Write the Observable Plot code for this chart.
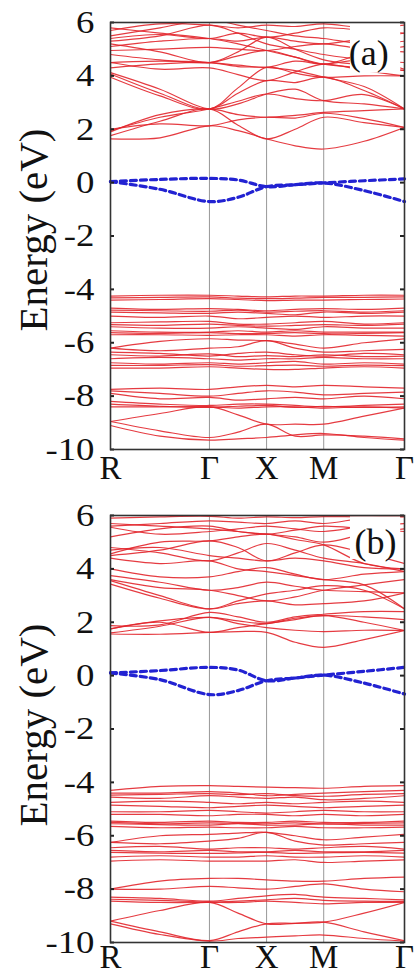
<!DOCTYPE html>
<html><head><meta charset="utf-8">
<script src="https://cdn.jsdelivr.net/npm/d3@7"></script>
<script src="https://cdn.jsdelivr.net/npm/@observablehq/plot@0.6"></script>
<style>
html,body{margin:0;padding:0;background:#fff;overflow:hidden;}
#chart{width:416px;}
svg{display:block;overflow:visible}
</style></head><body><div id="chart"></div>
<script>
// k-path positions (simple cubic: R-Γ = √3, Γ-X = 1, X-M = 1, M-Γ = √2)
const kPoints = [0, 0.866, 1.732, 2.232, 2.732, 3.232, 3.732, 4.439, 5.146];
const kTicks = [0, 1.732, 2.732, 3.732, 5.146];
const kLabels = ["R", "Γ", "X", "M", "Γ"];
const yTicks = [-10, -8, -6, -4, -2, 0, 2, 4, 6];

// Panel (a)
const condA = [
  [1.64, 1.68, 2.13, 1.95, 1.64, 1.38, 1.26, 1.55, 2.07],
  [1.76, 2.30, 2.76, 2.15, 1.64, 2.00, 2.45, 2.25, 2.07],
  [1.90, 2.55, 2.76, 2.55, 2.45, 2.52, 2.63, 2.70, 2.76],
  [1.95, 2.45, 2.76, 3.05, 3.32, 3.15, 3.07, 3.30, 2.76],
  [2.00, 2.20, 2.13, 2.35, 2.45, 2.42, 2.60, 2.40, 2.07],
  [4.07, 3.35, 2.76, 3.35, 3.82, 3.75, 3.95, 3.45, 2.76],
  [3.95, 3.25, 2.76, 3.55, 4.32, 4.10, 3.95, 4.00, 4.00],
  [4.12, 3.50, 2.76, 2.95, 3.32, 3.50, 3.07, 2.95, 2.76],
  [4.50, 4.25, 4.30, 4.05, 3.82, 4.15, 4.44, 4.20, 4.00],
  [4.30, 4.45, 4.50, 4.35, 4.32, 4.20, 3.95, 3.60, 2.76],
  [4.50, 4.55, 4.50, 4.40, 4.32, 4.55, 4.44, 4.60, 4.25],
  [4.80, 4.60, 4.50, 4.75, 4.95, 4.70, 4.44, 4.85, 5.10],
  [4.95, 5.00, 5.07, 5.00, 4.95, 5.10, 5.20, 5.00, 4.90],
  [5.20, 4.90, 4.50, 4.90, 5.45, 5.00, 4.60, 4.40, 4.20],
  [5.10, 5.30, 5.40, 5.30, 5.45, 5.30, 5.20, 5.40, 5.60],
  [5.40, 5.55, 5.40, 5.60, 5.45, 5.60, 5.80, 5.70, 5.60],
  [5.80, 5.60, 5.40, 5.20, 4.95, 4.70, 4.44, 4.30, 4.20],
  [5.30, 5.50, 5.90, 5.60, 5.20, 5.00, 4.80, 4.60, 4.50],
  [5.70, 5.95, 5.90, 5.80, 5.90, 5.85, 5.95, 5.80, 5.90],
  [5.50, 5.80, 6.10, 5.90, 5.70, 5.50, 5.40, 5.20, 5.30]
];
const valA = [
  [-4.25, -4.22, -4.22, -4.25, -4.28, -4.25, -4.25, -4.22, -4.22],
  [-4.32, -4.30, -4.28, -4.33, -4.35, -4.33, -4.30, -4.30, -4.28],
  [-4.40, -4.38, -4.35, -4.38, -4.42, -4.40, -4.40, -4.38, -4.36],
  [-4.70, -4.75, -4.72, -4.75, -4.80, -4.75, -4.72, -4.75, -4.70],
  [-4.78, -4.80, -4.82, -4.78, -4.85, -4.82, -4.80, -4.85, -4.80],
  [-4.85, -4.88, -4.90, -4.85, -4.90, -4.95, -4.85, -4.90, -4.85],
  [-5.00, -5.05, -5.00, -5.10, -5.05, -5.00, -5.05, -5.00, -5.00],
  [-5.25, -5.22, -5.20, -5.30, -5.30, -5.25, -5.20, -5.30, -5.25],
  [-5.32, -5.35, -5.30, -5.35, -5.38, -5.35, -5.32, -5.35, -5.30],
  [-5.40, -5.45, -5.45, -5.40, -5.45, -5.50, -5.40, -5.45, -5.45],
  [-5.55, -5.60, -5.60, -5.55, -5.60, -5.55, -5.60, -5.60, -5.60],
  [-5.62, -5.65, -5.62, -5.66, -5.65, -5.62, -5.66, -5.65, -5.62],
  [-5.70, -5.70, -5.72, -5.70, -5.70, -5.75, -5.70, -5.72, -5.75],
  [-6.20, -5.95, -5.85, -5.90, -5.92, -6.05, -6.20, -6.00, -5.85],
  [-6.20, -6.30, -6.20, -6.15, -5.92, -6.20, -6.35, -6.30, -6.25],
  [-6.35, -6.40, -6.50, -6.40, -6.35, -6.45, -6.50, -6.40, -6.45],
  [-6.45, -6.50, -6.42, -6.52, -6.48, -6.52, -6.45, -6.52, -6.50],
  [-6.60, -6.55, -6.60, -6.65, -6.60, -6.60, -6.55, -6.60, -6.60],
  [-6.75, -6.80, -6.75, -6.80, -6.75, -6.70, -6.80, -6.75, -6.80],
  [-6.85, -6.85, -6.82, -6.88, -6.86, -6.84, -6.88, -6.84, -6.86],
  [-6.95, -6.95, -6.90, -6.95, -7.00, -7.00, -6.95, -6.90, -6.95],
  [-7.75, -7.70, -7.75, -7.65, -7.60, -7.65, -7.60, -7.65, -7.70],
  [-7.80, -7.90, -8.00, -7.90, -7.80, -7.85, -7.95, -7.90, -7.85],
  [-7.90, -8.10, -8.05, -8.15, -8.10, -8.05, -8.10, -8.00, -8.10],
  [-8.20, -8.30, -8.35, -8.30, -8.30, -8.35, -8.40, -8.35, -8.30],
  [-8.30, -8.38, -8.42, -8.38, -8.35, -8.42, -8.38, -8.42, -8.40],
  [-8.40, -8.40, -8.40, -8.45, -8.40, -8.40, -8.45, -8.40, -8.45],
  [-8.95, -8.65, -8.40, -8.70, -9.05, -9.05, -9.05, -8.75, -8.45],
  [-8.95, -9.30, -9.55, -9.35, -9.05, -9.50, -9.45, -9.50, -9.60],
  [-9.10, -9.50, -9.65, -9.60, -9.55, -9.45, -9.40, -9.55, -9.65]
];
const blueA = [
  [0.04, 0.12, 0.16, 0.10, -0.15, -0.08, -0.01, 0.07, 0.14],
  [0.04, -0.25, -0.71, -0.55, -0.15, -0.08, -0.01, -0.30, -0.71]
];

// Panel (b)
const condB = [
  [1.56, 1.55, 1.62, 1.65, 1.62, 1.25, 1.06, 1.35, 1.69],
  [1.75, 2.00, 1.62, 1.80, 1.95, 2.10, 2.25, 2.00, 1.69],
  [1.75, 2.05, 2.18, 2.05, 1.95, 2.15, 2.25, 2.20, 2.10],
  [1.87, 1.90, 2.37, 2.20, 2.00, 2.20, 2.30, 2.40, 2.40],
  [1.60, 1.85, 2.18, 1.95, 1.80, 1.70, 1.65, 1.70, 1.69],
  [3.43, 2.90, 2.50, 2.80, 3.06, 3.20, 3.37, 3.20, 2.50],
  [3.56, 3.00, 2.50, 2.70, 2.80, 2.65, 2.70, 2.80, 3.10],
  [3.75, 3.50, 3.20, 3.30, 3.50, 3.35, 3.20, 3.15, 3.10],
  [3.60, 3.30, 3.20, 3.00, 2.80, 2.95, 3.20, 3.40, 3.60],
  [4.00, 3.70, 3.70, 3.90, 4.05, 3.80, 3.60, 3.80, 3.90],
  [4.40, 4.20, 4.30, 4.00, 3.90, 3.75, 3.60, 3.40, 2.50],
  [4.56, 5.00, 5.05, 5.20, 5.30, 5.10, 4.90, 4.20, 4.00],
  [4.70, 4.80, 4.50, 4.40, 4.30, 4.40, 4.30, 4.05, 4.00],
  [4.80, 4.60, 4.30, 4.60, 4.95, 4.70, 4.40, 4.20, 3.90],
  [4.50, 4.70, 5.05, 4.80, 4.30, 4.60, 4.90, 4.60, 4.20],
  [5.56, 5.30, 5.40, 5.50, 5.60, 5.50, 5.40, 5.60, 5.70],
  [5.60, 5.70, 5.80, 5.75, 5.70, 5.80, 5.70, 5.90, 5.95],
  [5.90, 5.95, 5.97, 5.90, 5.95, 5.92, 5.96, 5.95, 5.98],
  [5.20, 5.50, 5.60, 5.40, 5.30, 5.20, 5.00, 5.30, 5.50],
  [5.70, 5.60, 5.50, 5.40, 5.30, 5.45, 5.60, 5.50, 5.40]
];
const valB = [
  [-4.30, -4.15, -4.12, -4.15, -4.18, -4.20, -4.22, -4.15, -4.12],
  [-4.40, -4.40, -4.35, -4.40, -4.50, -4.45, -4.40, -4.35, -4.30],
  [-4.48, -4.45, -4.42, -4.46, -4.42, -4.50, -4.52, -4.45, -4.42],
  [-4.55, -4.60, -4.50, -4.55, -4.60, -4.55, -4.65, -4.60, -4.50],
  [-4.75, -4.70, -4.75, -4.80, -4.75, -4.80, -4.75, -4.70, -4.75],
  [-4.85, -4.90, -4.95, -4.90, -4.85, -4.90, -4.95, -4.90, -4.85],
  [-5.10, -5.10, -5.05, -5.10, -5.15, -5.10, -5.05, -5.10, -5.10],
  [-5.20, -5.20, -5.25, -5.20, -5.20, -5.25, -5.20, -5.25, -5.20],
  [-5.45, -5.50, -5.45, -5.50, -5.50, -5.45, -5.50, -5.50, -5.45],
  [-5.50, -5.55, -5.52, -5.54, -5.55, -5.52, -5.56, -5.54, -5.52],
  [-5.55, -5.58, -5.60, -5.55, -5.60, -5.60, -5.55, -5.60, -5.60],
  [-5.65, -5.70, -5.68, -5.70, -5.70, -5.65, -5.70, -5.70, -5.68],
  [-6.25, -6.00, -5.95, -5.90, -5.87, -6.00, -6.15, -6.05, -5.95],
  [-6.25, -6.30, -6.20, -6.10, -5.87, -6.20, -6.35, -6.30, -6.25],
  [-6.45, -6.40, -6.50, -6.45, -6.45, -6.50, -6.45, -6.40, -6.50],
  [-6.55, -6.60, -6.55, -6.60, -6.60, -6.55, -6.60, -6.60, -6.55],
  [-6.62, -6.65, -6.66, -6.64, -6.62, -6.66, -6.64, -6.62, -6.65],
  [-6.80, -6.75, -6.80, -6.80, -6.75, -6.80, -6.80, -6.75, -6.80],
  [-6.95, -6.90, -6.95, -6.95, -6.95, -6.90, -7.00, -6.95, -6.90],
  [-8.00, -7.70, -7.60, -7.60, -7.65, -7.70, -7.70, -7.60, -7.55],
  [-8.00, -8.00, -7.90, -7.95, -8.00, -7.90, -7.80, -8.00, -8.10],
  [-8.30, -8.35, -8.45, -8.35, -8.25, -8.20, -8.30, -8.35, -8.40],
  [-8.38, -8.42, -8.48, -8.45, -8.40, -8.35, -8.42, -8.45, -8.46],
  [-8.45, -8.50, -8.50, -8.50, -8.45, -8.50, -8.55, -8.50, -8.50],
  [-9.20, -8.80, -8.50, -8.90, -9.30, -9.28, -9.24, -8.90, -8.50],
  [-9.20, -9.60, -9.93, -9.60, -9.30, -9.28, -9.24, -9.60, -9.93],
  [-9.30, -9.70, -9.95, -9.85, -9.80, -9.75, -9.72, -9.85, -9.95]
];
const blueB = [
  [0.10, 0.19, 0.31, 0.21, -0.19, -0.09, 0.02, 0.16, 0.31],
  [0.10, -0.15, -0.71, -0.56, -0.19, -0.09, 0.02, -0.28, -0.69]
];

const panelTags = ["(a)", "(b)"];
const yLabel = "Energy (eV)";

function rows(bands, prefix) {
  return bands.flatMap((b, i) => b.map((e, j) => ({band: prefix + i, k: kPoints[j], e})));
}

function panel({cond, val, blue, tag, tagAt, box, height, marginTop, marginBottom, xPad, labelDy}) {
  const kMax = kTicks[kTicks.length - 1];
  const svg = Plot.plot({
    width: 416, height, marginTop, marginBottom, marginLeft: 110, marginRight: 12,
    style: {fontFamily: "'Liberation Serif', 'Times New Roman', serif", background: "white", color: "#111", overflow: "visible"},
    x: {domain: [0, kMax], label: null},
    y: {domain: [-10, 6], label: null},
    marks: [
      Plot.ruleX(kTicks.slice(1, -1), {stroke: "#8c8c8c", strokeWidth: 0.9}),
      Plot.line(rows(cond, "c").concat(rows(val, "v")), {
        x: "k", y: "e", z: "band", stroke: "#e2262c", strokeWidth: 1.2, strokeOpacity: 0.9,
        curve: "catmull-rom", clip: true
      }),
      Plot.rect([box], {x1: "x1", x2: "x2", y1: "y1", y2: "y2", fill: "white"}),
      Plot.line(rows(blue, "b"), {
        x: "k", y: "e", z: "band", stroke: "#2222d2", strokeWidth: 3.2,
        strokeDasharray: "6,4", curve: "catmull-rom"
      }),
      Plot.text([tag], {x: tagAt[0], y: tagAt[1], text: d => d, fontSize: 36, fill: "#111"}),
      Plot.ruleY(yTicks, {x1: 0, x2: 0.07, stroke: "#222", strokeWidth: 2}),
      Plot.ruleY(yTicks, {x1: kMax - 0.07, x2: kMax, stroke: "#222", strokeWidth: 2}),
      Plot.frame({stroke: "#333", strokeWidth: 1.6}),
      Plot.axisY({ticks: yTicks, tickSize: 0, tickPadding: 16, fontSize: 32, tickFormat: d => String(d)}),
      Plot.axisX({ticks: kTicks, tickSize: 0, tickPadding: xPad, fontSize: 33, tickFormat: d => kLabels[kTicks.indexOf(d)]}),
      Plot.text([yLabel], {frameAnchor: "left", textAnchor: "middle", lineAnchor: "middle", rotate: -90, dx: -77, dy: labelDy, text: d => d, fontSize: 41, fill: "#111"})
    ]
  });
  // digits in the reference are drawn slightly wider than plain Times
  d3.select(svg).selectAll("[aria-label='y-axis tick label'] text").each(function() {
    const t = this.getAttribute("transform") || "";
    this.setAttribute("transform", t + " scale(1.15,1)");
  });
  return svg;
}

const chart = document.getElementById("chart");
chart.append(panel({
  cond: condA, val: valA, blue: blueA, tag: panelTags[0], tagAt: [4.52, 4.85],
  box: {x1: 4.2, x2: 5.08, y1: 4.1, y2: 5.95},
  height: 488, marginTop: 22, marginBottom: 39, xPad: 6, labelDy: -6
}));
chart.append(panel({
  cond: condB, val: valB, blue: blueB, tag: panelTags[1], tagAt: [4.64, 5.0],
  box: {x1: 4.2, x2: 5.08, y1: 4.35, y2: 5.95},
  height: 487, marginTop: 27, marginBottom: 33, xPad: 2, labelDy: -4
}));
</script></body></html>
